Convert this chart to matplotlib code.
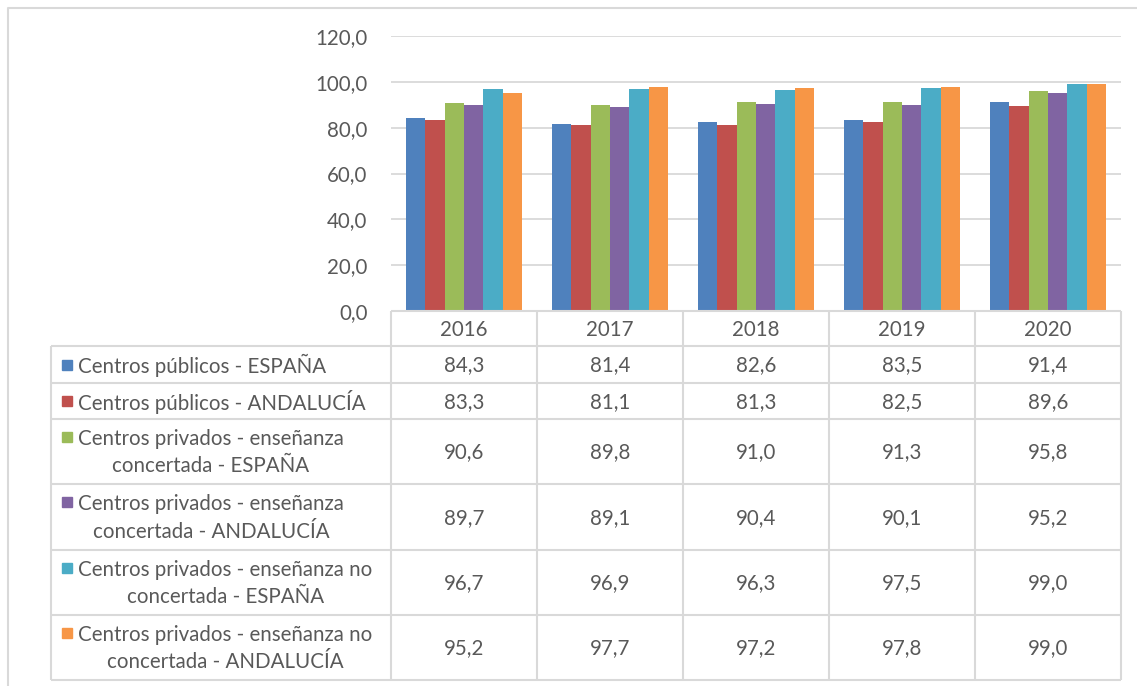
import matplotlib.pyplot as plt
import numpy as np

years = ["2016", "2017", "2018", "2019", "2020"]
series = [
    "Centros públicos - ESPAÑA",
    "Centros públicos - ANDALUCÍA",
    "Centros privados - enseñanza\nconcertada - ESPAÑA",
    "Centros privados - enseñanza\nconcertada - ANDALUCÍA",
    "Centros privados - enseñanza no\nconcertada - ESPAÑA",
    "Centros privados - enseñanza no\nconcertada - ANDALUCÍA",
]
pub_esp = [84.3, 81.4, 82.6, 83.5, 91.4]
pub_and = [83.3, 81.1, 81.3, 82.5, 89.6]
conc_esp = [90.6, 89.8, 91.0, 91.3, 95.8]
conc_and = [89.7, 89.1, 90.4, 90.1, 95.2]
noconc_esp = [96.7, 96.9, 96.3, 97.5, 99.0]
noconc_and = [95.2, 97.7, 97.2, 97.8, 99.0]
values = [pub_esp, pub_and, conc_esp, conc_and, noconc_esp, noconc_and]
colors = ["#4F81BD", "#C0504D", "#9BBB59", "#8064A2", "#4BACC6", "#F79646"]

W, H = 1137, 686
txt = "#595959"
grid = "#D9D9D9"
font = "Lato"
fs = 14.8

fig = plt.figure(figsize=(W / 100, H / 100), dpi=100)

# pixel helper -> figure fraction
def fx(px):
    return px / W

def fy(py):
    return 1 - py / H

# bar area
x0, x1 = 391, 1121
ytop, ybot = 36, 311
ax = fig.add_axes([fx(x0), fy(ybot), fx(x1) - fx(x0), fy(ytop) - fy(ybot)])
n = len(series)
bw = 0.8 / n
x = np.arange(len(years))
for i, (vals, c) in enumerate(zip(values, colors)):
    ax.bar(x - 0.4 + bw * (i + 0.5), vals, bw, color=c, zorder=3)
ax.set_xlim(-0.5, len(years) - 0.5)
ax.set_ylim(0, 120)
ax.set_yticks(np.arange(0, 121, 20))
ax.set_yticklabels([f"{v:.1f}".replace(".", ",") for v in np.arange(0, 121, 20)],
                   fontsize=fs, color=txt, family=font)
ax.tick_params(axis="y", length=0, pad=17)
ax.set_xticks([])
ax.yaxis.grid(True, color=grid, lw=1.3, zorder=0)
for s in ax.spines.values():
    s.set_visible(False)

# overlay in pixel coordinates for frame and data table
ov = fig.add_axes([0, 0, 1, 1], zorder=5)
ov.set_xlim(0, W)
ov.set_ylim(H, 0)
ov.axis("off")
ov.patch.set_alpha(0)

# chart frame
ov.plot([8, 8, W + 5], [H + 5, 8, 8], color=grid, lw=1.5)

# table geometry
lx = 51
cols = [x0 + (x1 - x0) * k / len(years) for k in range(len(years) + 1)]
rows = [311, 346, 383, 419, 484, 550, 615, 680]
lc = dict(color=grid, lw=1.5, solid_capstyle="butt")

for r in rows[1:]:
    ov.plot([lx, x1], [r, r], **lc)
ov.plot([x0, x1], [rows[0], rows[0]], **lc)
ov.plot([lx, lx], [rows[1], rows[-1]], **lc)
for cx in cols:
    ov.plot([cx, cx], [rows[0], rows[-1]], **lc)

for k, yr in enumerate(years):
    ov.text((cols[k] + cols[k + 1]) / 2, (rows[0] + rows[1]) / 2 + 1, yr,
            ha="center", va="center", fontsize=fs, color=txt, family=font)

for i, (name, vals, c) in enumerate(zip(series, values, colors)):
    ya, yb = rows[i + 1], rows[i + 2]
    yc = (ya + yb) / 2
    two = "\n" in name
    ty = yc - 15 if two else yc
    ov.add_patch(plt.Rectangle((62, ty - 5), 10, 10, color=c))
    ov.text(78, yc + 1, name, ha="left", va="center", multialignment="center",
            fontsize=fs, color=txt, family=font, linespacing=1.45)
    for k, v in enumerate(vals):
        ov.text((cols[k] + cols[k + 1]) / 2, yc + 1, f"{v:.1f}".replace(".", ","),
                ha="center", va="center", fontsize=fs, color=txt, family=font)

fig.savefig("out.png", dpi=100, facecolor="white")
